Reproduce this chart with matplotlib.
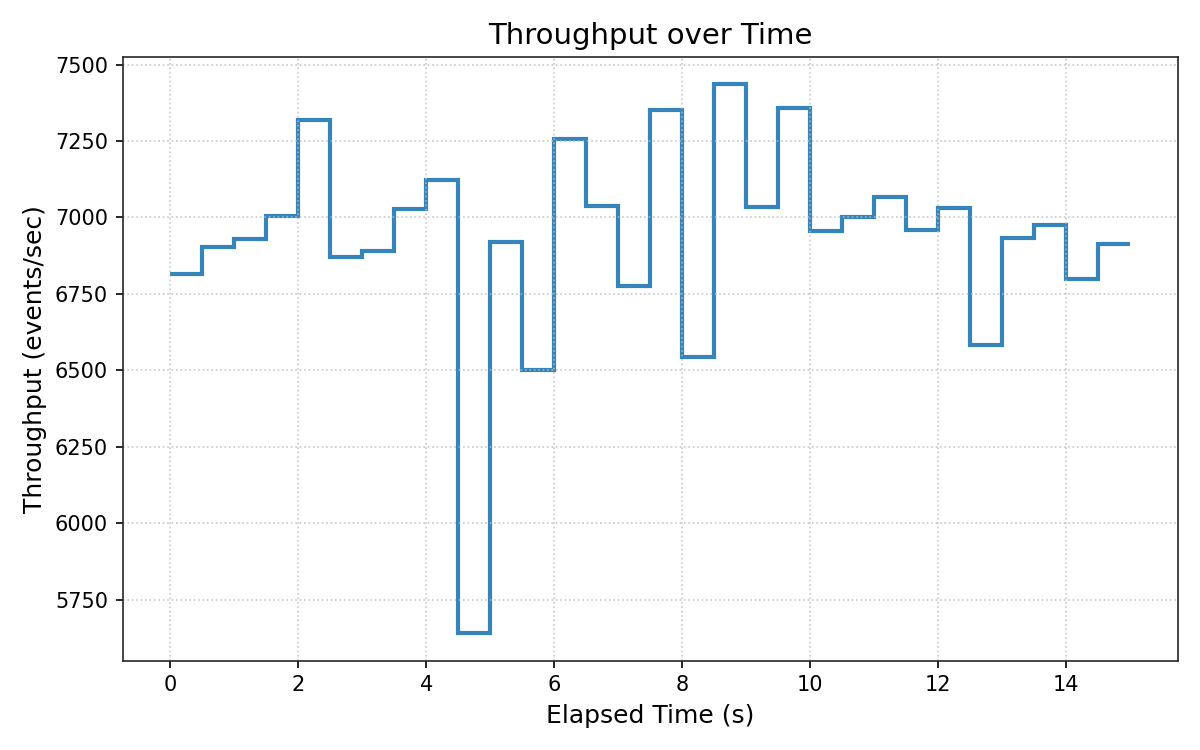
import numpy as np
import matplotlib
matplotlib.use('Agg')
import matplotlib.pyplot as plt

# bin edges (s) and throughput per half-second bin
edges = np.arange(0, 15.5, 0.5)
throughput = [6816, 6903, 6928, 7003, 7319, 6872, 6890, 7027, 7122, 5640,
              6918, 6500, 7257, 7036, 6775, 7351, 6542, 7435, 7033, 7357,
              6954, 7000, 7066, 6960, 7030, 6583, 6934, 6975, 6798, 6914]

fig, ax = plt.subplots(figsize=(8, 5), dpi=150)
ax.stairs(throughput, edges, baseline=None, color='#1f77b4', alpha=0.9, linewidth=2)

ax.set_title('Throughput over Time', fontsize=14)
ax.set_xlabel('Elapsed Time (s)', fontsize=12)
ax.set_ylabel('Throughput (events/sec)', fontsize=12)
ax.grid(True, linestyle=':', color='#bbbbbb', alpha=0.8)
for s in ax.spines.values():
    s.set_color('#262626')

fig.tight_layout()
fig.savefig('out.png', dpi=150)
